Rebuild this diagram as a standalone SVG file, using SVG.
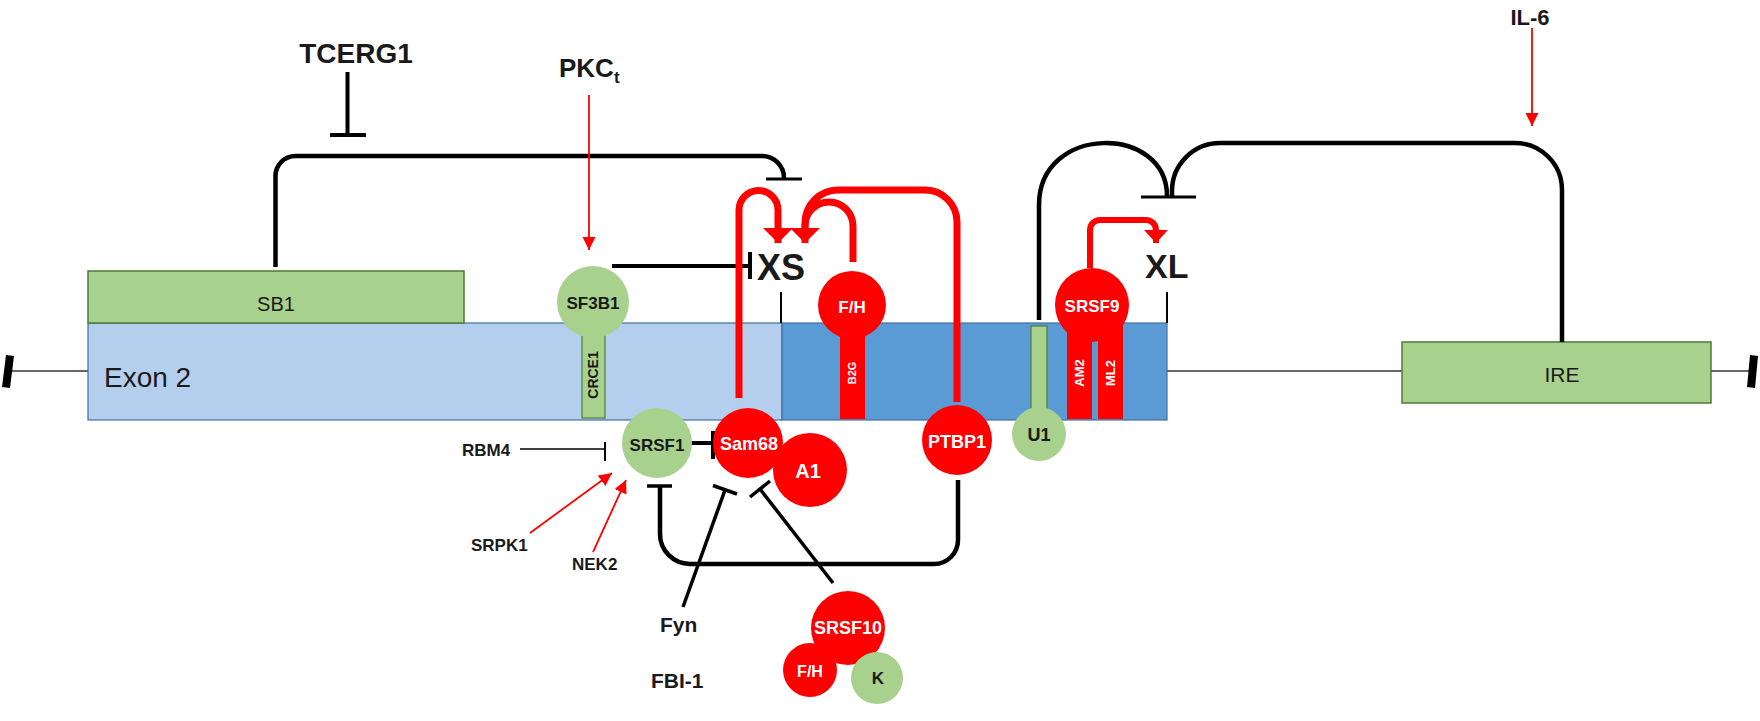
<svg xmlns="http://www.w3.org/2000/svg" width="1760" height="721" viewBox="0 0 1760 721">
<style>
text{font-family:"Liberation Sans",Arial,sans-serif}
.b{font-weight:bold}
.dk{fill:#1a1a1a}
.wt{fill:#ffffff}
.grn{fill:#a9d18e}
.gbox{fill:#a9d18e;stroke:#4f7a34;stroke-width:1.5}
.red{fill:#ff0000}
.blk{fill:none;stroke:#000;stroke-linecap:butt}
.rl{fill:none;stroke:#ff0000}
.thin{fill:none;stroke:#333;stroke-width:1.6}
</style>
<defs>
<marker id="ra" markerUnits="userSpaceOnUse" markerWidth="14" markerHeight="14" refX="13" refY="6.5" orient="auto"><path d="M0,0 L13,6.5 L0,13 z" fill="#ff0000"/></marker>
<marker id="rab" markerUnits="userSpaceOnUse" markerWidth="16" markerHeight="32" refX="15" refY="15" orient="auto"><path d="M0,0 L15,15 L0,30 z" fill="#ff0000"/></marker>
<marker id="ras" markerUnits="userSpaceOnUse" markerWidth="14" markerHeight="26" refX="13" refY="12" orient="auto"><path d="M0,0 L13,12 L0,24 z" fill="#ff0000"/></marker>
</defs>

<!-- gene structure -->
<g id="intron-left">
<line class="thin" x1="12" y1="371" x2="88" y2="371"/>
<polygon points="6,355 14,356 10,388 2,387" fill="#000"/>
</g>
<g id="intron-right">
<line class="thin" x1="1167" y1="371" x2="1402" y2="371"/>
<line class="thin" x1="1711" y1="371" x2="1750" y2="371"/>
<polygon points="1750,355 1758,356 1755,388 1747,387" fill="#000"/>
</g>
<g id="exon2">
<rect x="88" y="323" width="694" height="97" fill="#b4cfee" stroke="#41719c" stroke-width="1.2"/>
<text x="104" y="387" font-size="28" class="dk">Exon 2</text>
</g>
<g id="exon2-xl">
<rect x="782" y="323" width="385" height="97" fill="#5b9bd5" stroke="#41719c" stroke-width="1.2"/>
</g>
<g id="sb1">
<rect class="gbox" x="88" y="271" width="376" height="52"/>
<text x="276" y="311" font-size="20" text-anchor="middle" class="dk">SB1</text>
</g>
<g id="ire">
<rect class="gbox" x="1402" y="342" width="309" height="61"/>
<text x="1562" y="382" font-size="21" text-anchor="middle" class="dk">IRE</text>
</g>

<!-- connectors -->
<g id="connectors">
<line class="blk" x1="347.5" y1="72" x2="347.5" y2="135" stroke-width="4"/>
<line class="blk" x1="330" y1="135" x2="366" y2="135" stroke-width="4"/>
<path class="blk" d="M275.5 267 V177 A20 20 0 0 1 295.5 156 H762 A22 22 0 0 1 784 178" stroke-width="4.5"/>
<line class="blk" x1="766" y1="179" x2="802" y2="179" stroke-width="3"/>
<line class="rl" x1="589" y1="95" x2="589" y2="250" stroke-width="1.8" marker-end="url(#ra)"/>
<line class="blk" x1="612" y1="266" x2="750" y2="266" stroke-width="4"/>
<line class="blk" x1="750" y1="252" x2="750" y2="279" stroke-width="4"/>
<line class="blk" x1="781" y1="292" x2="781" y2="323" stroke-width="2"/>
<line class="blk" x1="1167" y1="292" x2="1167" y2="323" stroke-width="2"/>
<path class="rl" d="M739 398 V210 A19.5 19.5 0 0 1 778 210 V243" stroke-width="7" marker-end="url(#rab)"/>
<path class="rl" d="M957 402 V222 A32 32 0 0 0 925 190 H838 A33 33 0 0 0 805 223 V230" stroke-width="7"/>
<path class="rl" d="M853 262 V226 A24 24 0 0 0 805 226 V243" stroke-width="7" marker-end="url(#rab)"/>
<path class="rl" d="M1090 268 V230 A10 10 0 0 1 1100 220 H1146 A10 10 0 0 1 1156 230 V243" stroke-width="6" marker-end="url(#ras)"/>
<path class="blk" d="M1039 320 V205 C1039 124 1167 124 1167 196" stroke-width="4.5"/>
<path class="blk" d="M1562 342 V190 A47 47 0 0 0 1515 143 H1220 A48 48 0 0 0 1172 191 V196" stroke-width="4.5"/>
<line class="blk" x1="1141" y1="197" x2="1196" y2="197" stroke-width="3"/>
<line class="rl" x1="1532" y1="28" x2="1532" y2="126" stroke-width="1.8" marker-end="url(#ra)"/>
<line class="blk" x1="687" y1="443" x2="713" y2="443" stroke-width="4"/>
<line class="blk" x1="713" y1="431" x2="713" y2="459" stroke-width="4"/>
<line class="blk" x1="520" y1="449" x2="605" y2="449" stroke-width="1.6"/>
<line class="blk" x1="605" y1="442" x2="605" y2="461" stroke-width="2"/>
<line class="rl" x1="530" y1="533" x2="612" y2="473" stroke-width="1.8" marker-end="url(#ra)"/>
<line class="rl" x1="593" y1="552" x2="626" y2="480" stroke-width="1.8" marker-end="url(#ra)"/>
<path class="blk" d="M958 480 V540 A24 24 0 0 1 934 564 H690 A30 30 0 0 1 660 534 V486" stroke-width="4.5"/>
<line class="blk" x1="647" y1="486" x2="672" y2="486" stroke-width="3.5"/>
<line class="blk" x1="683" y1="607" x2="725" y2="490" stroke-width="3.5"/>
<line class="blk" x1="713" y1="485.5" x2="737" y2="494" stroke-width="3.5"/>
<line class="blk" x1="833" y1="583" x2="760" y2="489" stroke-width="3.5"/>
<line class="blk" x1="750" y1="497" x2="770" y2="481" stroke-width="3.5"/>
</g>

<g id="tcerg1"><text x="356" y="63" font-size="28" class="b dk" text-anchor="middle">TCERG1</text></g>
<g id="pkc"><text x="559" y="77" font-size="26" class="b dk">PKC<tspan font-size="17" dy="6">t</tspan></text></g>
<g id="il6"><text x="1530" y="25" font-size="22" class="b dk" text-anchor="middle">IL-6</text></g>
<g id="xs"><text x="757" y="280" font-size="36" class="b dk">XS</text></g>
<g id="xl"><text x="1145" y="278" font-size="34" class="b dk">XL</text></g>
<g id="rbm4"><text x="462" y="456" font-size="17" class="b dk">RBM4</text></g>
<g id="srpk1"><text x="471" y="551" font-size="17" class="b dk">SRPK1</text></g>
<g id="nek2"><text x="572" y="570" font-size="17" class="b dk">NEK2</text></g>
<g id="fyn"><text x="660" y="632" font-size="21" class="b dk">Fyn</text></g>
<g id="fbi1"><text x="651" y="688" font-size="21" class="b dk">FBI-1</text></g>

<g id="sf3b1">
<rect x="582" y="320" width="23" height="98" class="grn" stroke="#4f7a34" stroke-width="1.2"/>
<circle cx="593" cy="302" r="36" class="grn"/>
<text x="593" y="309" font-size="17" class="b dk" text-anchor="middle">SF3B1</text>
<text transform="translate(598 375) rotate(-90)" font-size="14" class="b dk" text-anchor="middle">CRCE1</text>
</g>
<g id="fh">
<rect x="840" y="315" width="25" height="104" class="red"/>
<circle cx="852" cy="305" r="34" class="red"/>
<text x="852" y="313" font-size="17" class="b wt" text-anchor="middle">F/H</text>
<text transform="translate(856 373) rotate(-90)" font-size="11" class="b wt" text-anchor="middle">B2G</text>
</g>
<g id="srsf9">
<rect x="1067" y="315" width="25" height="104" class="red"/>
<rect x="1098" y="315" width="25" height="104" class="red"/>
<circle cx="1092" cy="305" r="37" class="red"/>
<text x="1092" y="312" font-size="17" class="b wt" text-anchor="middle">SRSF9</text>
<text transform="translate(1084 373) rotate(-90)" font-size="13" class="b wt" text-anchor="middle">AM2</text>
<text transform="translate(1115 373) rotate(-90)" font-size="13" class="b wt" text-anchor="middle">ML2</text>
</g>
<g id="u1">
<rect x="1031" y="326" width="16" height="90" class="grn" stroke="#4f7a34" stroke-width="1.2"/>
<circle cx="1039" cy="434" r="27" class="grn"/>
<text x="1039" y="441" font-size="18" class="b dk" text-anchor="middle">U1</text>
</g>
<g id="ptbp1">
<circle cx="957" cy="440" r="35" class="red"/>
<text x="957" y="448" font-size="18" class="b wt" text-anchor="middle">PTBP1</text>
</g>
<g id="srsf1">
<circle cx="657" cy="443" r="35" class="grn"/>
<text x="657" y="451" font-size="17" class="b dk" text-anchor="middle">SRSF1</text>
</g>
<g id="a1">
<circle cx="810" cy="470" r="37" class="red"/>
<text x="808" y="478" font-size="20" class="b wt" text-anchor="middle">A1</text>
</g>
<g id="sam68">
<circle cx="748" cy="443" r="35" class="red"/>
<text x="749" y="450" font-size="18" class="b wt" text-anchor="middle">Sam68</text>
</g>
<g id="srsf10">
<circle cx="848" cy="628" r="37" class="red"/>
<text x="848" y="634" font-size="18" class="b wt" text-anchor="middle">SRSF10</text>
</g>
<g id="fh2">
<circle cx="810" cy="670" r="27" class="red"/>
<text x="810" y="677" font-size="16" class="b wt" text-anchor="middle">F/H</text>
</g>
<g id="k">
<circle cx="877" cy="678" r="26" class="grn"/>
<text x="878" y="684" font-size="17" class="b dk" text-anchor="middle">K</text>
</g>
</svg>
